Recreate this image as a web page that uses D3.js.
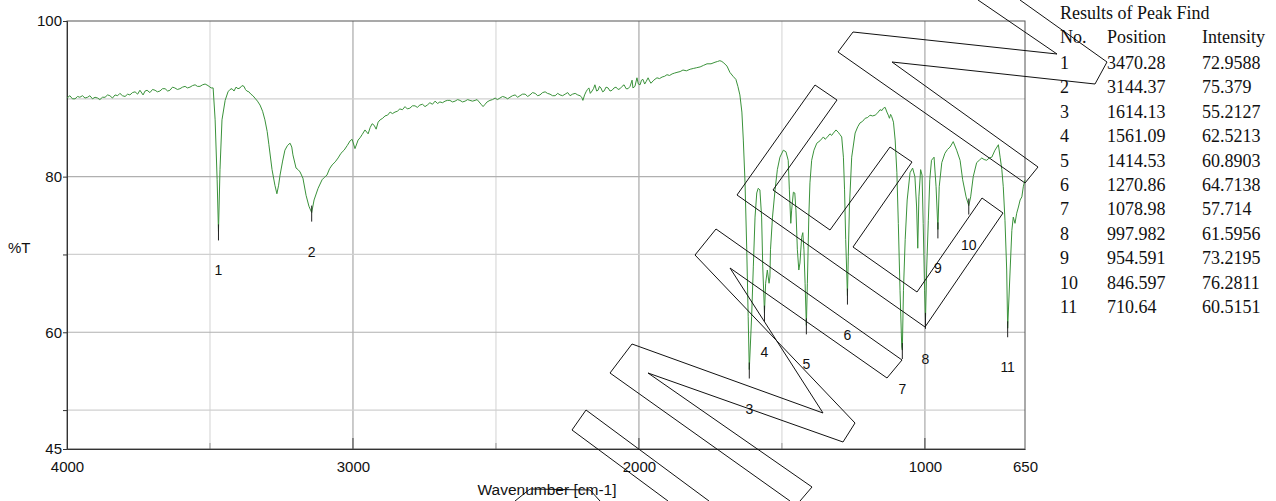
<!doctype html>
<html>
<head>
<meta charset="utf-8">
<script src="https://d3js.org/d3.v7.min.js"></script>
<style>
  body { margin: 0; background: #fff; }
  svg { display: block; }
</style>
</head>
<body>
<svg id="chart" width="1276" height="501"></svg>
<script>
// peak table
var peakNo = [1, 2, 3, 4, 5, 6, 7, 8, 9, 10, 11];
var peakPos = ["3470.28", "3144.37", "1614.13", "1561.09", "1414.53", "1270.86", "1078.98", "997.982", "954.591", "846.597", "710.64"];
var peakInt = ["72.9588", "75.379", "55.2127", "62.5213", "60.8903", "64.7138", "57.714", "61.5956", "73.2195", "76.2811", "60.5151"];

// axis ticks
var xLabels = [4000, 3000, 2000, 1000, 650];
var xGrid = [3500, 3000, 2500, 2000, 1500, 1000];
var yLabels = [100, 80, 60, 45];
var yTicks = [100, 80, 70, 60, 50, 45];
var yGrid = [90, 80, 70, 60, 50];

// spectrum, [wavenumber, %T]
var spectrum = [
[4000,90.1],[3990,90.4],[3981,90.0],[3972,90.0],[3963,90.3],[3955,90.2],[3946,90.4],[3937,90.1],[3928,90.2],[3920,90.4],
[3911,90.0],[3902,90.2],[3893,90.1],[3885,89.9],[3876,90.2],[3867,90.2],[3858,90.5],[3850,90.4],[3841,90.1],[3832,90.5],
[3823,90.4],[3815,90.7],[3806,90.4],[3797,90.3],[3788,90.6],[3780,90.5],[3771,90.8],[3762,90.9],[3753,90.6],[3745,91.1],
[3734,90.5],[3727,91.0],[3720,91.1],[3710,90.8],[3701,91.2],[3692,91.1],[3684,90.9],[3675,91.0],[3666,91.3],[3657,91.3],
[3648,91.0],[3640,91.1],[3631,91.5],[3623,91.4],[3614,91.2],[3605,91.3],[3596,91.5],[3587,91.6],[3579,91.4],[3570,91.5],
[3561,91.7],[3552,91.8],[3544,91.6],[3535,91.6],[3526,91.8],[3517,91.9],[3507,91.7],[3496,91.4],[3489,91.4],[3482,87.3],
[3475,79.6],[3470.28,72.96],[3465,80.9],[3458,87.3],[3447,89.8],[3437,90.9],[3430,91.2],[3423,91.3],[3416,91.0],[3409,91.5],
[3402,91.3],[3395,91.4],[3388,91.7],[3381,91.6],[3376,91.2],[3371,91.0],[3364,90.9],[3357,90.6],[3350,90.4],[3343,90.1],
[3334,89.7],[3325,89.2],[3316,88.4],[3308,87.3],[3300,85.8],[3294,84.1],[3283,80.9],[3273,78.9],[3266,77.8],[3260,78.9],
[3255,80.2],[3246,82.0],[3238,83.4],[3229,84.0],[3220,84.3],[3214,83.8],[3210,82.8],[3199,81.1],[3192,80.9],[3185,80.6],
[3175,79.8],[3164,77.6],[3154,76.2],[3144.37,75.38],[3136,77.0],[3122,78.5],[3108,79.6],[3100,79.9],[3091,80.2],[3082,81.0],
[3073,81.5],[3062,81.9],[3052,82.4],[3042,83.0],[3031,83.4],[3020,84.0],[3010,84.6],[3003,84.8],[2993,83.6],[2982,84.7],
[2975,85.0],[2968,85.4],[2958,86.0],[2947,85.5],[2940,86.3],[2933,86.8],[2926,86.6],[2919,86.1],[2912,87.0],[2905,87.3],
[2896,87.5],[2888,87.8],[2879,87.9],[2870,88.3],[2862,88.1],[2853,88.3],[2845,88.4],[2836,88.7],[2827,88.6],[2818,89.0],
[2810,88.7],[2801,88.8],[2792,89.1],[2783,89.1],[2775,88.9],[2766,89.2],[2757,89.3],[2748,89.0],[2740,89.2],[2731,89.5],
[2722,89.3],[2713,89.7],[2704,89.4],[2696,89.6],[2687,89.5],[2678,89.7],[2670,89.8],[2661,89.8],[2652,89.6],[2643,89.7],
[2634,89.9],[2626,89.8],[2617,89.6],[2608,89.7],[2599,89.9],[2591,89.8],[2582,89.7],[2573,89.8],[2566,89.9],[2559,89.6],
[2552,89.3],[2545,89.0],[2538,89.3],[2531,89.6],[2521,89.8],[2512,89.9],[2503,90.1],[2495,89.9],[2486,90.1],[2477,90.3],
[2468,90.2],[2459,90.0],[2451,90.2],[2442,90.4],[2433,90.5],[2424,90.2],[2416,90.4],[2407,90.6],[2398,90.6],[2389,90.3],
[2381,90.5],[2372,90.8],[2363,90.7],[2354,90.4],[2346,90.5],[2337,90.8],[2328,90.9],[2320,90.7],[2311,90.6],[2302,90.4],
[2293,90.4],[2284,90.7],[2276,90.5],[2267,90.4],[2258,90.6],[2249,90.8],[2241,90.4],[2232,90.6],[2223,90.7],[2214,90.5],
[2206,90.4],[2200,90.2],[2196,89.8],[2190,90.5],[2185,90.9],[2180,91.2],[2175,91.4],[2170,90.7],[2164,91.0],[2159,91.3],
[2154,91.8],[2148,91.0],[2143,91.1],[2138,91.6],[2133,91.4],[2127,90.9],[2122,91.0],[2115,91.5],[2108,91.4],[2101,91.0],
[2094,91.1],[2087,91.4],[2080,91.5],[2073,91.2],[2066,91.3],[2059,91.6],[2052,91.8],[2045,91.3],[2038,91.3],[2031,91.6],
[2024,92.4],[2021,91.4],[2014,91.6],[2007,92.7],[2002,91.9],[1996,91.8],[1991,92.4],[1986,92.5],[1980,91.9],[1975,92.2],
[1968,92.7],[1963,92.3],[1958,92.0],[1948,92.4],[1937,92.7],[1928,92.6],[1919,92.8],[1910,92.9],[1902,93.1],[1893,93.0],
[1884,93.2],[1876,93.3],[1867,93.4],[1856,93.5],[1846,93.7],[1834,93.6],[1821,93.8],[1810,93.9],[1798,94.0],[1786,94.1],
[1774,94.3],[1762,94.5],[1748,94.5],[1734,94.7],[1725,94.8],[1717,94.9],[1710,94.8],[1703,94.6],[1692,94.2],[1682,93.4],
[1671,92.9],[1661,92.5],[1654,91.6],[1647,90.5],[1640,88.3],[1635,84.7],[1629,79.2],[1623,70.6],[1618,62.0],[1614.13,55.21],
[1606,62.0],[1600,68.4],[1594,74.8],[1588,77.9],[1583,78.5],[1577,78.3],[1571,74.8],[1567,68.4],[1561.09,62.52],[1557,66.3],
[1551,68.0],[1545,66.3],[1542,67.1],[1540,70.6],[1533,74.8],[1524,78.3],[1516,80.9],[1507,82.5],[1495,83.4],[1486,83.2],
[1478,82.1],[1474,78.3],[1469,74.0],[1466,75.7],[1460,78.0],[1455,77.9],[1451,75.7],[1446,70.6],[1441,68.0],[1437,68.9],
[1431,72.2],[1427,72.8],[1423,70.6],[1419,66.3],[1414.53,60.89],[1411,66.3],[1406,74.8],[1402,79.2],[1396,82.1],[1388,83.4],
[1378,84.3],[1367,84.6],[1355,85.1],[1349,84.8],[1343,85.0],[1332,85.5],[1326,85.3],[1320,85.6],[1311,86.0],[1303,85.7],
[1297,85.4],[1291,85.1],[1285,82.5],[1281,78.3],[1277,71.9],[1270.86,64.71],[1268,69.7],[1264,76.1],[1256,82.5],[1244,85.6],
[1235,86.4],[1227,86.9],[1218,87.1],[1209,87.5],[1200,87.6],[1192,87.9],[1183,87.8],[1174,87.9],[1165,88.2],[1157,88.6],
[1150,88.5],[1145,88.8],[1139,88.9],[1133,88.3],[1128,87.9],[1124,87.5],[1120,88.0],[1116,87.7],[1110,87.0],[1104,84.7],
[1098,80.5],[1093,74.0],[1087,65.4],[1081,58.1],[1078.98,57.71],[1075,65.4],[1069,71.9],[1062,77.0],[1052,80.5],[1043,81.1],
[1035,80.0],[1029,76.1],[1025,70.8],[1021,77.4],[1015,80.9],[1010,80.2],[1006,74.0],[1001,65.4],[997.982,61.60],[994,68.0],
[988,74.4],[983,79.6],[977,82.1],[968,82.5],[961,78.7],[954.591,73.22],[950,78.7],[941,81.8],[930,83.0],[921,83.5],
[912,83.8],[901,84.5],[889,83.4],[877,82.1],[868,79.6],[856,77.4],[846.597,76.28],[840,77.4],[831,80.0],[819,81.8],
[810,82.1],[801,82.4],[793,82.2],[784,82.1],[775,82.4],[766,82.5],[755,83.4],[743,84.1],[737,82.5],[731,80.9],
[726,78.7],[720,74.4],[714,68.0],[710.64,60.52],[702,68.0],[696,73.1],[691,74.8],[685,74.0],[679,75.3],[673,76.1],
[667,77.0],[661,77.4],[656,78.7],[650,79.6]
];

// watermark outline drawn over the chart (page pixels, not data)
var watermark = [
  [[978,0],[1057,54],[853,32],[838,52],[1025,183],[1038,167],[892,62],[1095,84],[1107,62],[1020,0]],
  [[815,85],[737,195],[925,327],[1003,213],[982,198],[917,292],[853,247],[912,162],[890,147],[830,230],[773,190],[837,100],[815,85]],
  [[790,501],[610,373],[632,344],[823,413],[730,268],[887,378],[902,360],[716,229],[695,255],[855,423],[843,442],[648,373],[812,487],[800,501]],
  [[668,501],[572,430],[586,410],[709,501]],
  [[515,501],[530,489],[590,490],[600,501]]
];

(function() {
var ml = 67, mr = 1025, mt = 21, mb = 449;
var sans = "Liberation Sans, Arial, Helvetica, sans-serif";
var serif = "Liberation Serif, Times New Roman, serif";

var svg = d3.select("#chart");

var x = d3.scaleLinear().domain([4000, 650]).range([ml, mr]);
var y = d3.scaleLinear().domain([45, 100]).range([mb, mt]);

// grid
svg.append("g").selectAll("line")
  .data(xGrid).enter().append("line")
  .attr("x1", d => x(d)).attr("x2", d => x(d))
  .attr("y1", mt).attr("y2", mb)
  .attr("stroke", d => d % 1000 == 0 ? "#a8a8a8" : "#dadada")
  .attr("stroke-width", 1.2);

svg.append("g").selectAll("line")
  .data(yGrid).enter().append("line")
  .attr("x1", ml).attr("x2", mr)
  .attr("y1", d => y(d)).attr("y2", d => y(d))
  .attr("stroke", d => d % 20 == 0 ? "#b0b0b0" : "#d0d0d0")
  .attr("stroke-width", 1.2);

// inner x ticks
svg.append("g").selectAll("line")
  .data(xGrid).enter().append("line")
  .attr("x1", d => x(d)).attr("x2", d => x(d))
  .attr("y1", d => mb - (d % 1000 == 0 ? 11 : 6)).attr("y2", mb)
  .attr("stroke", d => d % 1000 == 0 ? "#444" : "#999");

// frame
svg.append("rect")
  .attr("x", ml).attr("y", mt)
  .attr("width", mr - ml).attr("height", mb - mt)
  .attr("fill", "none").attr("stroke", "#555").attr("stroke-width", 1);

// y axis
var yAxis = svg.append("g")
  .attr("transform", "translate(" + ml + ",0)")
  .call(d3.axisLeft(y).tickValues(yTicks).tickSize(4)
    .tickFormat(d => yLabels.indexOf(d) >= 0 ? d : ""));
yAxis.attr("font-family", sans).attr("font-size", 15);
yAxis.select(".domain").attr("stroke", "#333");
yAxis.selectAll(".tick line").attr("stroke", "#333");
yAxis.selectAll(".tick text").attr("fill", "#111").attr("x", -5);

// x axis
var xAxis = svg.append("g")
  .attr("transform", "translate(0," + mb + ")")
  .call(d3.axisBottom(x).tickValues(xLabels).tickSize(0).tickPadding(12).tickFormat(d3.format("d")));
xAxis.attr("font-family", sans).attr("font-size", 15);
xAxis.select(".domain").attr("stroke", "#333");
xAxis.selectAll(".tick text").attr("fill", "#111");

// axis titles
svg.append("text")
  .attr("x", 8).attr("y", 253)
  .attr("font-family", sans).attr("font-size", 15).attr("fill", "#111")
  .text("%T");
svg.append("text")
  .attr("x", 547).attr("y", 495)
  .attr("text-anchor", "middle")
  .attr("font-family", sans).attr("font-size", 15.5).attr("fill", "#111")
  .text("Wavenumber [cm-1]");

// spectrum
var line = d3.line().x(d => x(d[0])).y(d => y(d[1]));
svg.append("path")
  .datum(spectrum)
  .attr("d", line)
  .attr("fill", "none")
  .attr("stroke", "#3a923a")
  .attr("stroke-width", 1)
  .attr("stroke-linejoin", "round");

// peak markers and numbers
var peaks = peakNo.map((n, i) => ({ n: n, pos: +peakPos[i], t: +peakInt[i] }));
svg.append("g").selectAll("line")
  .data(peaks).enter().append("line")
  .attr("x1", d => x(d.pos)).attr("x2", d => x(d.pos))
  .attr("y1", d => y(d.t) - 7).attr("y2", d => y(d.t) + 9)
  .attr("stroke", "#222");

svg.append("g").selectAll("text")
  .data(peaks).enter().append("text")
  .attr("x", d => x(d.pos)).attr("y", d => y(d.t) + 44)
  .attr("text-anchor", "middle")
  .attr("font-family", sans).attr("font-size", 14).attr("fill", "#111")
  .text(d => d.n);

// results table
var tbl = svg.append("g").attr("font-family", serif).attr("fill", "#111").attr("font-size", 18);
tbl.append("text").attr("x", 1060).attr("y", 19).text("Results of Peak Find");
tbl.append("text").attr("x", 1060).attr("y", 43).text("No.");
tbl.append("text").attr("x", 1107).attr("y", 43).text("Position");
tbl.append("text").attr("x", 1202).attr("y", 43).text("Intensity");
var rows = tbl.selectAll("g.row").data(peaks).enter().append("g").attr("class", "row")
  .attr("transform", (d, i) => "translate(0," + (69 + i * 24.4) + ")");
rows.append("text").attr("x", 1060).text(d => d.n);
rows.append("text").attr("x", 1107).text((d, i) => peakPos[i]);
rows.append("text").attr("x", 1202).text((d, i) => peakInt[i]);

// watermark
svg.append("g").selectAll("path")
  .data(watermark).enter().append("path")
  .attr("d", d3.line())
  .attr("fill", "none")
  .attr("stroke", "#111")
  .attr("stroke-width", 1);
})();
</script>
</body>
</html>
